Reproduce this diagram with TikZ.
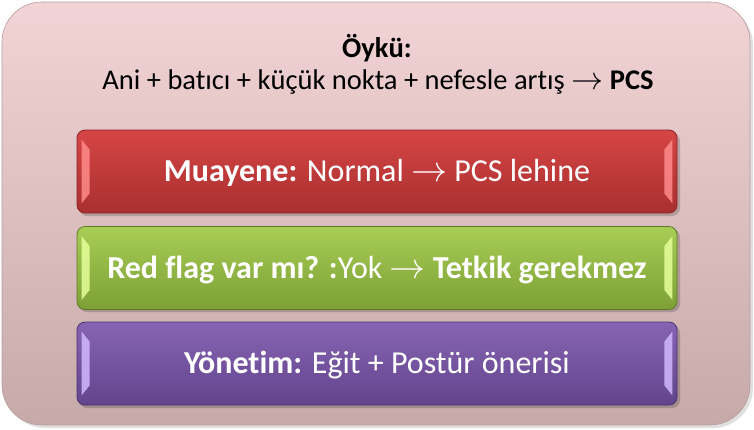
\documentclass[tikz,border=0pt]{standalone}
\usepackage{graphicx}
\usepackage{fontspec}
\setmainfont{Carlito}[Ligatures=NoCommon]
\usetikzlibrary{calc}
\definecolor{bgtop}{HTML}{F3D4D6}
\definecolor{bgbot}{HTML}{C6A9A9}
\definecolor{bgedge}{HTML}{B89C9C}
\definecolor{redtop}{HTML}{D64545}
\definecolor{redbot}{HTML}{A92F2F}
\definecolor{redhl}{HTML}{FF8A8A}
\definecolor{redln}{HTML}{8A2525}
\definecolor{grntop}{HTML}{A8CD55}
\definecolor{grnbot}{HTML}{7DA036}
\definecolor{grnhl}{HTML}{E6FF9A}
\definecolor{grnln}{HTML}{5E7A28}
\definecolor{purtop}{HTML}{8764B3}
\definecolor{purbot}{HTML}{62448C}
\definecolor{purhl}{HTML}{D2B8FF}
\definecolor{purln}{HTML}{4A3370}
\newcommand{\arr}[1]{ \scalebox{#1}{\fontsize{10}{12}\selectfont$\rightarrow$} }
\tikzset{
  barbox/.style={minimum width=600pt, minimum height=83pt, rounded corners=8pt,
    inner sep=0pt, text=white, line width=0.8pt},
  barlabel/.style={anchor=base, text=white, font=\fontsize{32}{36}\selectfont, inner sep=0pt},
  headtext/.style={anchor=base, font=\fontsize{28.5}{32}\selectfont, inner sep=0pt},
  shadowbar/.style={fill=black, opacity=0.18, rounded corners=8pt},
}
\newcommand{\bevel}[2]{%
  \fill[#2, opacity=0.85] ($(#1.north west)+(5,10)$) -- ($(#1.north west)+(13,20)$) -- ($(#1.south west)+(13,-20)$) -- ($(#1.south west)+(5,-10)$) -- cycle;
  \fill[#2, opacity=0.85] ($(#1.north east)+(-5,10)$) -- ($(#1.north east)+(-13,20)$) -- ($(#1.south east)+(-13,-20)$) -- ($(#1.south east)+(-5,-10)$) -- cycle;
}
\begin{document}
\begin{tikzpicture}[x=1pt,y=-1pt]
\useasboundingbox (0,0) rectangle (754,429);
% outer panel
\fill[black, opacity=0.12, rounded corners=40pt] (5,5) rectangle (753,428);
\shade[top color=bgtop, bottom color=bgbot, rounded corners=40pt, draw=bgedge, line width=0.6pt] (2,2) rectangle (750,425);
\node[headtext] (oyku) at (377,57) {\textbf{Öykü:}};
\node[headtext] (oykutext) at (378,89) {Ani + batıcı + küçük nokta + nefesle artış\arr{3.2}\textbf{PCS}};
% shadows
\fill[shadowbar] (79,133) rectangle (680,216);
\fill[shadowbar] (79,229) rectangle (680,312);
\fill[shadowbar] (79,325) rectangle (680,408);
% bars
\node[barbox, top color=redtop, bottom color=redbot, draw=redln] (muayene) at (377,171.5) {};
\node[barbox, top color=grntop, bottom color=grnbot, draw=grnln] (redflag) at (377,268) {};
\node[barbox, top color=purtop, bottom color=purbot, draw=purln] (yonetim) at (377,363.5) {};
\bevel{muayene}{redhl}
\bevel{redflag}{grnhl}
\bevel{yonetim}{purhl}
\node[barlabel] (muayenet) at ($(muayene.center)+(0,10)$) {\textbf{Muayene:} Normal\arr{3.6}PCS lehine};
\node[barlabel] (redflagt) at ($(redflag.center)+(0,10)$) {\textbf{Red flag var mı? :}Yok\arr{3.6}\textbf{Tetkik gerekmez}};
\node[barlabel] (yonetimt) at ($(yonetim.center)+(0,10)$) {\textbf{Yönetim:} Eğit + Postür önerisi};
\end{tikzpicture}
\end{document}
